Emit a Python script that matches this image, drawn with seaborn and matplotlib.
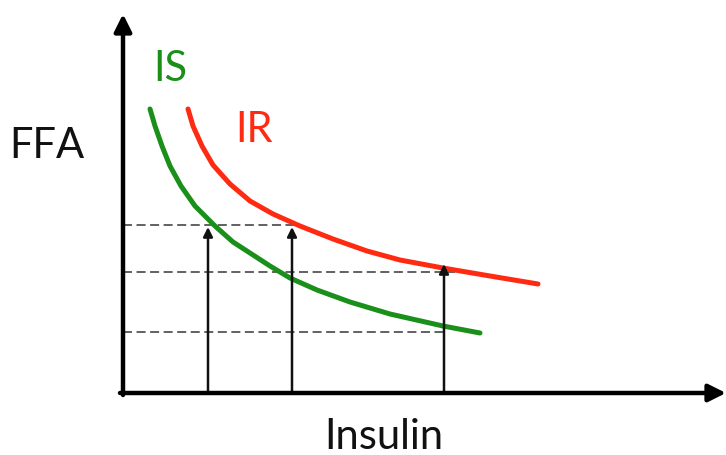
import numpy as np
import pandas as pd
import matplotlib
matplotlib.use("Agg")
import matplotlib.pyplot as plt
import seaborn as sns

# ── 資料 (單位: 任意, 原點在座標軸交點) ─────────────────────────────────────────
is_insulin = [27, 32, 39, 47, 58, 72, 92, 110, 127, 147, 167, 194, 227, 267, 320, 357]
is_ffa     = [284, 267, 247, 227, 207, 187, 167, 151, 140, 127, 115, 103, 91, 79, 67, 60]

ir_insulin = [65, 70, 79, 90, 107, 127, 150, 177, 210, 244, 277, 320, 367, 415]
ir_ffa     = [284, 267, 247, 228, 209, 192, 179, 167, 154, 142, 133, 125, 117, 109]

level_ffa = [168, 121, 61]        # dashed reference levels
level_end = [179, 332, 320]       # where each dashed line stops
arrow_insulin = [85, 169, 321]    # vertical arrows
arrow_tip     = [166, 166, 129]

GREEN = "#1a8f1a"
RED = "#ff2a12"

sns.set_theme(style="white")
plt.rcParams["font.family"] = ["Lato", "DejaVu Sans"]

fig = plt.figure(figsize=(7.26, 4.56), dpi=100)
ax = fig.add_axes([0, 0, 1, 1])
ax.set_xlim(-123, 603)
ax.set_ylim(-62, 394)
ax.axis("off")

curves = pd.concat([
    pd.DataFrame({"Insulin": is_insulin, "FFA": is_ffa, "group": "IS"}),
    pd.DataFrame({"Insulin": ir_insulin, "FFA": ir_ffa, "group": "IR"}),
])
sns.lineplot(data=curves, x="Insulin", y="FFA", hue="group", sort=False,
             palette={"IS": GREEN, "IR": RED}, linewidth=3.6, legend=False, ax=ax)
for ln in ax.get_lines():
    ln.set_solid_joinstyle("round")

# dashed levels
for lv, end in zip(level_ffa, level_end):
    ax.plot([0, end], [lv, lv], color="#555555", lw=1.3, ls=(0, (5, 2.5)), zorder=1)

# vertical arrows from the x axis
for xv, tip in zip(arrow_insulin, arrow_tip):
    ax.annotate("", xy=(xv, tip), xytext=(xv, 0),
                arrowprops=dict(arrowstyle="-|>", color="#111111", lw=1.8,
                                mutation_scale=14, shrinkA=0, shrinkB=0))

# main axes
ax.annotate("", xy=(603, 0), xytext=(-3, 0),
            arrowprops=dict(arrowstyle="-|>", color="black", lw=3.2,
                            mutation_scale=26, shrinkA=0, shrinkB=0))
ax.annotate("", xy=(0, 379), xytext=(0, -2),
            arrowprops=dict(arrowstyle="-|>", color="black", lw=3.2,
                            mutation_scale=26, shrinkA=0, shrinkB=0))

ax.text(47, 325, "IS", color=GREEN, fontsize=30, ha="center", va="center")
ax.text(131, 264, "IR", color=RED, fontsize=30, ha="center", va="center")
ax.text(-76, 248, "FFA", color="#111111", fontsize=30, ha="center", va="center")
ax.text(261, -43, "Insulin", color="#111111", fontsize=30, ha="center", va="center")

fig.savefig("out.png", dpi=100)
